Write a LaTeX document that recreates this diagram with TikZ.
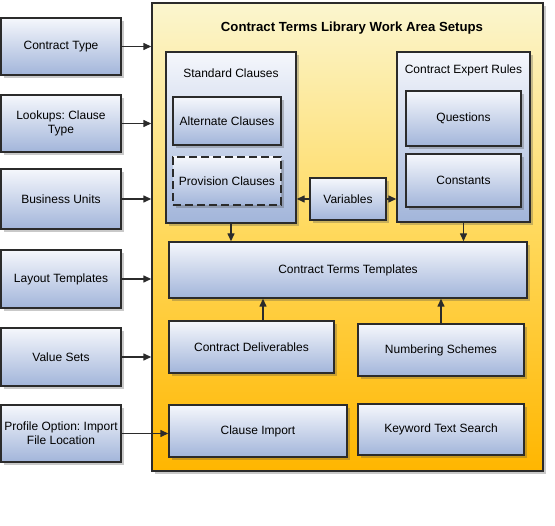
\documentclass[tikz,border=0pt]{standalone}
\usepackage{fontspec}
\setmainfont{Liberation Sans}
\usetikzlibrary{calc,shadows,arrows.meta}

\definecolor{boxtop}{HTML}{F5F7FC}
\definecolor{boxbot}{HTML}{A2B5DA}
\definecolor{areatop}{HTML}{FBF6CF}
\definecolor{areamid}{HTML}{FFD85A}
\definecolor{areabot}{HTML}{FFB600}
\definecolor{edge}{HTML}{2B2B2B}

\frenchspacing

\begin{document}
\begin{tikzpicture}[x=1pt,y=-1pt,
    box/.style={draw=edge, line width=1.4pt, top color=boxtop, bottom color=boxbot,
        drop shadow={shadow xshift=3pt, shadow yshift=-3pt, opacity=0.3, fill=black!70},
        inner sep=0pt, align=center, font=\fontsize{12}{14}\selectfont},
    area/.style={draw=edge, line width=1.4pt, top color=areatop, bottom color=areabot, middle color=areamid,
        drop shadow={shadow xshift=3pt, shadow yshift=-3pt, opacity=0.3, fill=black!70},
        inner sep=0pt},
    arr/.style={draw=edge, line width=1.4pt, -{Triangle[length=8pt,width=7pt]}}]

    % Fix the page size
    \useasboundingbox (0,0) rectangle (555,526);

    % The work area
    \node[area, minimum width=391pt, minimum height=468pt] (area) at (347.5,237) {};
    \node[font=\fontsize{13.2}{15}\selectfont\bfseries] (title) at (352,28) {Contract Terms Library Work Area Setups};

    % Setups on the left
    \node[box, minimum width=120pt, minimum height=57pt] (ctype) at (61,46.5) {Contract Type};
    \node[box, minimum width=120pt, minimum height=57pt] (lookup) at (61,123.5) {Lookups: Clause\\Type};
    \node[box, minimum width=120pt, minimum height=60pt] (bunit) at (61,199) {Business Units};
    \node[box, minimum width=120pt, minimum height=58pt] (layout) at (61,279) {Layout Templates};
    \node[box, minimum width=120pt, minimum height=58pt] (vsets) at (61,357) {Value Sets};
    \node[box, minimum width=120pt, minimum height=57pt] (profile) at (61,433.5) {Profile Option: Import\\File Location};

    % Standard clauses and its parts
    \node[box, minimum width=130pt, minimum height=171pt] (std) at (231,137.5) {};
    \node[font=\fontsize{12}{14}\selectfont] (stdlabel) at (231,73) {Standard Clauses};
    \node[box, minimum width=108pt, minimum height=48pt] (alt) at (227,121) {Alternate Clauses};
    \node[box, dash pattern=on 8pt off 4pt, minimum width=108pt, minimum height=48pt] (prov) at (227,181) {Provision Clauses};

    % Variables
    \node[box, minimum width=76pt, minimum height=42pt] (var) at (348,199) {Variables};

    % Contract expert rules and its parts
    \node[box, minimum width=133pt, minimum height=170pt] (expert) at (463.5,137) {};
    \node[font=\fontsize{12}{14}\selectfont] (explabel) at (463.5,70) {Contract Expert Rules};
    \node[box, minimum width=115pt, minimum height=55pt] (quest) at (463.5,118.5) {Questions};
    \node[box, minimum width=115pt, minimum height=53pt] (const) at (463.5,180.5) {Constants};

    % Templates and the rest
    \node[box, minimum width=358pt, minimum height=56pt] (tmpl) at (348,270) {Contract Terms Templates};
    \node[box, minimum width=165pt, minimum height=52pt] (deliv) at (251.5,347) {Contract Deliverables};
    \node[box, minimum width=166pt, minimum height=52pt] (number) at (441,350) {Numbering Schemes};
    \node[box, minimum width=178pt, minimum height=52pt] (import) at (258,431) {Clause Import};
    \node[box, minimum width=166pt, minimum height=51pt] (search) at (441,429.5) {Keyword Text Search};

    % Arrows into the work area
    \draw[arr] (ctype.east) -- (ctype.east -| area.west);
    \draw[arr] (lookup.east) -- (lookup.east -| area.west);
    \draw[arr] (bunit.east) -- (bunit.east -| area.west);
    \draw[arr] (layout.east) -- (layout.east -| area.west);
    \draw[arr] (vsets.east) -- (vsets.east -| area.west);
    \draw[arr] (profile.east) -- (import.west |- profile.east);

    % Variables to both sides
    \draw[arr] (var.west) -- (var.west -| std.east);
    \draw[arr] (var.east) -- (var.east -| expert.west);

    % Into the templates
    \draw[arr] (std.south) -- (std.south |- tmpl.north);
    \draw[arr] (expert.south) -- (expert.south |- tmpl.north);
    \coordinate (d) at ($(deliv.north)+(11.5,0)$);
    \draw[arr] (d) -- (d |- tmpl.south);
    \draw[arr] (number.north) -- (number.north |- tmpl.south);

\end{tikzpicture}
\end{document}
